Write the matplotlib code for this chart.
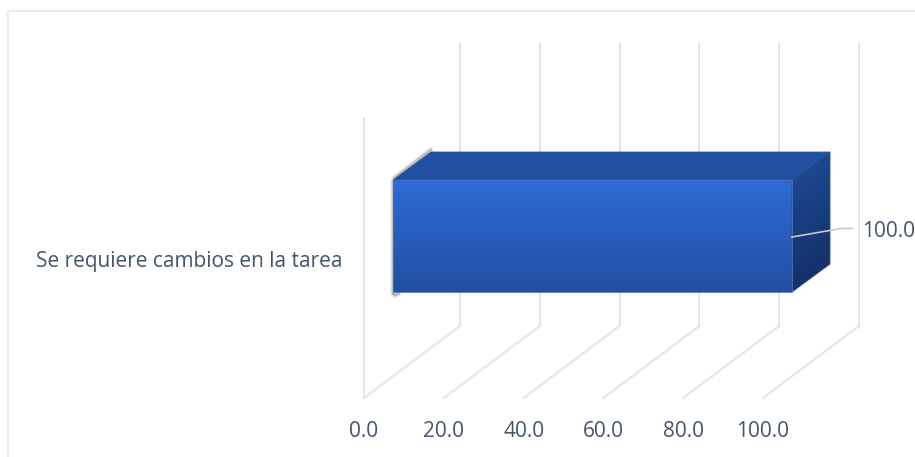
"""Single 3D-looking horizontal bar, drawn by hand on a flat axes."""

import matplotlib
matplotlib.use("Agg")
import matplotlib.pyplot as plt
import numpy as np
from matplotlib.patches import Polygon

plt.rcParams["font.family"] = ["Open Sans", "DejaVu Sans"]

categories = ["Se requiere cambios en la tarea"]
values = [100.0]
value_labels = ["100.0"]
tick_values = [0, 20, 40, 60, 80, 100]
tick_labels = ["0.0", "20.0", "40.0", "60.0", "80.0", "100.0"]

PX_PER_UNIT = 3.99
X0 = 364  # pixel of value 0 on the front floor edge
FLOOR_Y = 398
DEPTH_X = 96 / PX_PER_UNIT
DEPTH_Y = 72
TEXT_COL = "#44546A"
GRID_COL = "#E0E4EB"
FONT_SIZE = 15

fig = plt.figure(figsize=(9.15, 4.57), dpi=100)
ax = fig.add_axes([0, 0, 1, 1])
xlim = (-X0 / PX_PER_UNIT, (915 - X0) / PX_PER_UNIT)
px = 1 / PX_PER_UNIT  # one pixel in value units


def gradient_poly(points, top, bottom, edge, angle=0.0, zorder=3):
    pts = np.array(points)
    c0 = np.array(matplotlib.colors.to_rgb(top))
    c1 = np.array(matplotlib.colors.to_rgb(bottom))
    yy, xx = np.mgrid[0:1:200j, 0:1:200j]
    t = np.clip(yy + angle * (xx - 0.5), 0, 1)[..., None]
    img = c0 + (c1 - c0) * t
    extent = (pts[:, 0].min(), pts[:, 0].max(), pts[:, 1].max(), pts[:, 1].min())
    im = ax.imshow(img, extent=extent, origin="upper", aspect="auto", zorder=zorder)
    clip = Polygon(points, closed=True, transform=ax.transData)
    im.set_clip_path(clip)
    ax.add_patch(Polygon(points, closed=True, fill=False, ec=edge, lw=0.6, zorder=zorder + 0.1))


# chart frame
ax.plot([xlim[0] + 8.5 * px, xlim[0] + 8.5 * px, xlim[1]], [457, 11, 11], color="#E9EBEF", lw=1.4, zorder=1)

# walls and floor lines
for i, v in enumerate(tick_values):
    ax.plot([v, v + DEPTH_X], [FLOOR_Y, FLOOR_Y - DEPTH_Y], color=GRID_COL, lw=1.4, zorder=1)
    ax.plot([v + DEPTH_X, v + DEPTH_X], [FLOOR_Y - DEPTH_Y, 44], color=GRID_COL, lw=1.4, zorder=1)
    ax.text(v, 431.5, tick_labels[i], color=TEXT_COL, fontsize=FONT_SIZE, ha="center", va="center")
ax.plot([0, 0], [FLOOR_Y, 118], color=GRID_COL, lw=1.4, zorder=1)

# bar
bar_start = 29 * px
bar_end = bar_start + values[0]
bar_top, bar_bottom = 180, 292
dx, dy = 38 * px, 28

# soft shadow on the left side
for w, a in [(4.0, 0.09), (2.8, 0.16), (1.6, 0.28)]:
    ax.plot([bar_start, bar_start], [bar_top, bar_bottom + 3], color="#6E6E6E", lw=w, alpha=a, zorder=2, solid_capstyle="butt")
    ax.plot([bar_start, bar_start + 39 * px], [bar_top - 1, bar_top - dy - 3], color="#6E6E6E", lw=w, alpha=a, zorder=2, solid_capstyle="butt")
    ax.plot([bar_start, bar_start + 7 * px], [bar_bottom + 4, bar_bottom + 1], color="#6E6E6E", lw=w, alpha=a, zorder=2, solid_capstyle="butt")

ax.add_patch(Polygon(
    [(bar_start, bar_top), (bar_start + dx, bar_top - dy), (bar_end + dx, bar_top - dy), (bar_end, bar_top)],
    closed=True, fc="#20509F", ec="#2F5CA8", lw=0.6, zorder=3,
))
gradient_poly(
    [(bar_end, bar_top), (bar_end + dx, bar_top - dy), (bar_end + dx, bar_bottom - dy), (bar_end, bar_bottom)],
    "#1E4A93", "#132E65", "#2A5099", angle=0.2,
)
gradient_poly(
    [(bar_start, bar_top), (bar_end, bar_top), (bar_end, bar_bottom), (bar_start, bar_bottom)],
    "#2E6BD6", "#224F9F", "#4A72BA",
)

# data label with leader line
ax.plot([bar_end, bar_end + 49 * px, bar_end + 60 * px], [237, 228.5, 228.5], color="#C3CAD5", lw=1.2, zorder=4)
ax.text(bar_end + 70 * px, 231.5, value_labels[0], color=TEXT_COL, fontsize=FONT_SIZE, ha="left", va="center")

# category label
ax.text(bar_start - 50 * px, 262, categories[0], color=TEXT_COL, fontsize=FONT_SIZE, ha="right", va="center")

ax.set_xlim(*xlim)
ax.set_ylim(457, 0)
ax.axis("off")

fig.savefig("out.png", dpi=100)
